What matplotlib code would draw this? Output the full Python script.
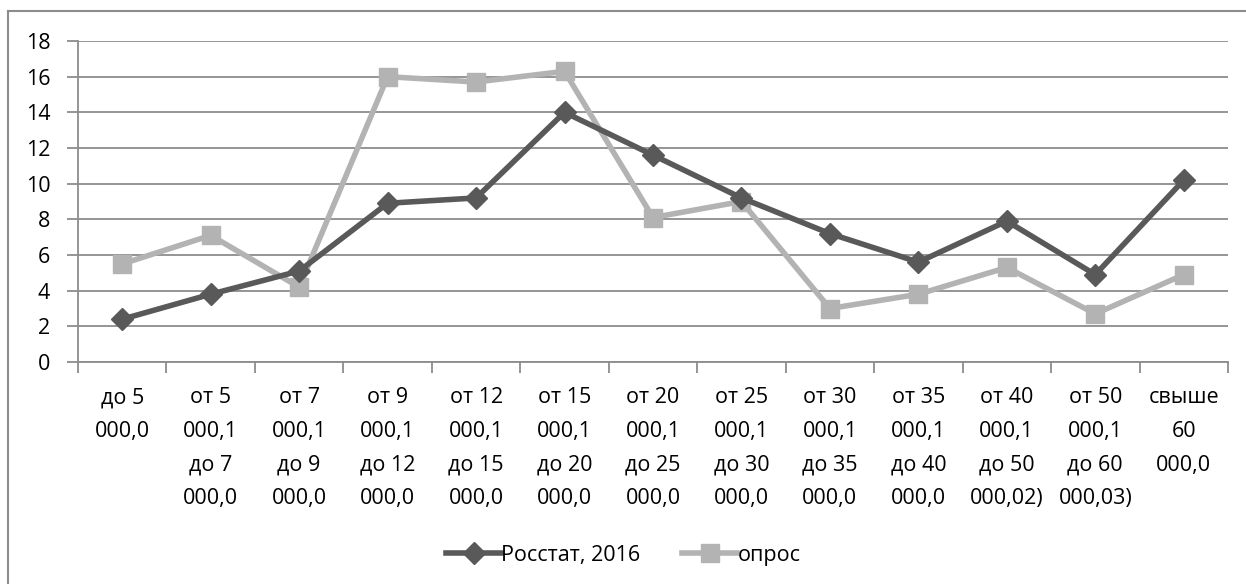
import matplotlib.pyplot as plt
from matplotlib.lines import Line2D

categories = [
    'до 5\n000,0',
    'от 5\n000,1\nдо 7\n000,0',
    'от 7\n000,1\nдо 9\n000,0',
    'от 9\n000,1\nдо 12\n000,0',
    'от 12\n000,1\nдо 15\n000,0',
    'от 15\n000,1\nдо 20\n000,0',
    'от 20\n000,1\nдо 25\n000,0',
    'от 25\n000,1\nдо 30\n000,0',
    'от 30\n000,1\nдо 35\n000,0',
    'от 35\n000,1\nдо 40\n000,0',
    'от 40\n000,1\nдо 50\n000,02)',
    'от 50\n000,1\nдо 60\n000,03)',
    'свыше\n60\n000,0',
]
rosstat = [2.4, 3.8, 5.1, 8.9, 9.2, 14.0, 11.6, 9.2, 7.2, 5.6, 7.9, 4.9, 10.2]
opros = [5.5, 7.1, 4.2, 16.0, 15.7, 16.3, 8.1, 9.0, 3.0, 3.8, 5.3, 2.7, 4.9]
yticks = [0, 2, 4, 6, 8, 10, 12, 14, 16, 18]

plt.rcParams['font.family'] = ['Open Sans', 'DejaVu Sans']
fs = 15.5

W, H = 1246, 584
fig = plt.figure(figsize=(W / 100, H / 100), dpi=100)
ax = fig.add_axes([78 / W, 1 - 362 / H, (1228 - 78) / W, (362 - 41) / H])

grid_c = '#8c8c8c'
dark = '#595959'
light = '#b3b3b3'

x = list(range(len(categories)))
ax.plot(x, opros, color=light, lw=4, marker='s', ms=13, label='опрос', zorder=3)
ax.plot(x, rosstat, color=dark, lw=4, marker='D', ms=11, label='Росстат, 2016', zorder=4)

ax.set_xlim(-0.5, len(categories) - 0.5)
ax.set_ylim(0, 18)
ax.set_yticks(yticks)
ax.set_yticklabels([str(v) for v in yticks], fontsize=fs)
ax.yaxis.grid(True, color=grid_c, lw=1.3)
ax.set_axisbelow(True)

# category labels between boundary ticks
ax.set_xticks([i - 0.5 for i in range(len(categories) + 1)])
ax.set_xticklabels([])
ax.set_xticks(x, minor=True)
ax.set_xticklabels(categories, minor=True, fontsize=fs, linespacing=1.8, va='top')
ax.tick_params(axis='x', which='minor', length=0, pad=18)
ax.tick_params(axis='x', which='major', length=8, color=grid_c, width=1.3)
ax.tick_params(axis='y', length=8, color=grid_c, width=1.3, pad=12)

for s in ['top', 'right']:
    ax.spines[s].set_visible(False)
for s in ['left', 'bottom']:
    ax.spines[s].set_color(grid_c)
    ax.spines[s].set_linewidth(1.3)

handles = [
    Line2D([], [], color=dark, lw=4, marker='D', ms=11),
    Line2D([], [], color=light, lw=4, marker='s', ms=13),
]
fig.legend(handles, ['Росстат, 2016', 'опрос'], loc='center', bbox_to_anchor=(0.5, 1 - 555 / H),
           ncol=2, frameon=False, fontsize=fs, handlelength=2.6, handletextpad=0.0, columnspacing=1.9)

# chart area border (left and top visible)
fig.add_artist(Line2D([8 / W, 8 / W], [0, 1 - 11 / H], transform=fig.transFigure, color=grid_c, lw=1.5))
fig.add_artist(Line2D([8 / W, 1], [1 - 11 / H, 1 - 11 / H], transform=fig.transFigure, color=grid_c, lw=1.5))

fig.savefig('out.png', dpi=100, facecolor='white')
